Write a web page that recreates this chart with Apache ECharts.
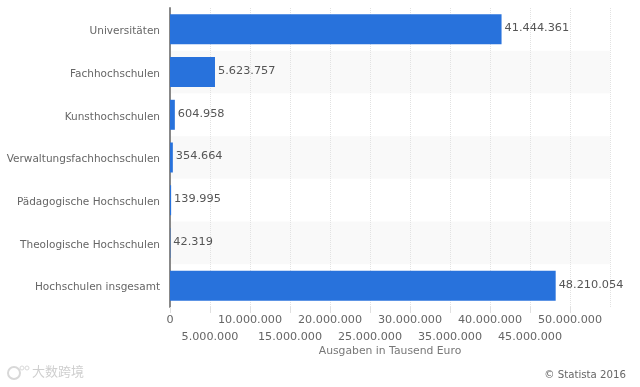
<!DOCTYPE html>
<html><head><meta charset="utf-8">
<style>html,body{margin:0;padding:0;background:#fff}#c{width:640px;height:387px}</style>
<script src="https://cdn.jsdelivr.net/npm/echarts@6/dist/echarts.min.js"></script>
</head><body><div id="c"></div>
<script>
const categories = ["Universitäten","Fachhochschulen","Kunsthochschulen","Verwaltungsfachhochschulen","Pädagogische Hochschulen","Theologische Hochschulen","Hochschulen insgesamt"];
const values = [41444361,5623757,604958,354664,139995,42319,48210054];
const axisTitle = "Ausgaben in Tausend Euro";
const credit = "© Statista 2016";
const watermark = "大数跨境";
const fmt = v => String(v).replace(/\B(?=(\d{3})+(?!\d))/g,".");
const font = '"DejaVu Sans"';
const chart = echarts.init(document.getElementById('c'),null,{renderer:'canvas'});
chart.setOption({
  animation:false,
  grid:{left:170,right:30,top:8,bottom:80},
  xAxis:{type:'value',min:0,max:55000000,interval:5000000,
    axisLine:{show:false},
    axisTick:{show:true,length:6,lineStyle:{color:'#e0e0e0'}},
    splitLine:{show:true,lineStyle:{color:'#e2e2e2',type:'dotted'}},
    axisLabel:{margin:4,hideOverlap:false,showMaxLabel:false,interval:0,color:'#666',fontFamily:font,fontSize:11.2,lineHeight:17.5,verticalAlign:'top',
      formatter:(v)=>{const i=Math.round(v/5000000);return i%2?'\n'+fmt(v):fmt(v);}},
    name:axisTitle,nameLocation:'middle',nameGap:39,nameMoveOverlap:false,
    nameTextStyle:{color:'#777',fontFamily:font,fontSize:10.8}
  },
  yAxis:{type:'category',inverse:true,data:categories,
    axisLine:{show:true,onZero:false,lineStyle:{color:'#888',width:2}},
    axisTick:{show:false},
    splitLine:{show:false},
    splitArea:{show:true,areaStyle:{color:['#ffffff','#f9f9f9']}},
    axisLabel:{margin:10,color:'#666',fontFamily:font,fontSize:10.5,
      formatter:v=>'{a|'+v+'}',
      rich:{a:{color:'#666',fontFamily:font,fontSize:10.5,padding:[4,0,0,0]}}}
  },
  series:[{type:'bar',data:values,barWidth:30,
    itemStyle:{color:'#2872dc'},
    label:{show:true,position:'right',distance:3,offset:[0,-1],color:'#555',fontFamily:font,fontSize:11.3,formatter:p=>fmt(p.value)}}],
  graphic:[
    {type:'text',right:14,top:370,style:{text:credit,fill:'#666',font:'10.2px '+font}},
    {type:'text',left:32,top:365,style:{text:watermark,fill:'#cfcfcf',font:'13px "Noto Sans CJK SC"'}},
    {type:'circle',shape:{cx:14,cy:373,r:6},style:{fill:'none',stroke:'#d8d8d8',lineWidth:2}},
    {type:'circle',shape:{cx:22,cy:368,r:2},style:{fill:'none',stroke:'#d8d8d8',lineWidth:1}},
    {type:'circle',shape:{cx:27,cy:368,r:2},style:{fill:'none',stroke:'#d8d8d8',lineWidth:1}}
  ]
});
</script></body></html>
